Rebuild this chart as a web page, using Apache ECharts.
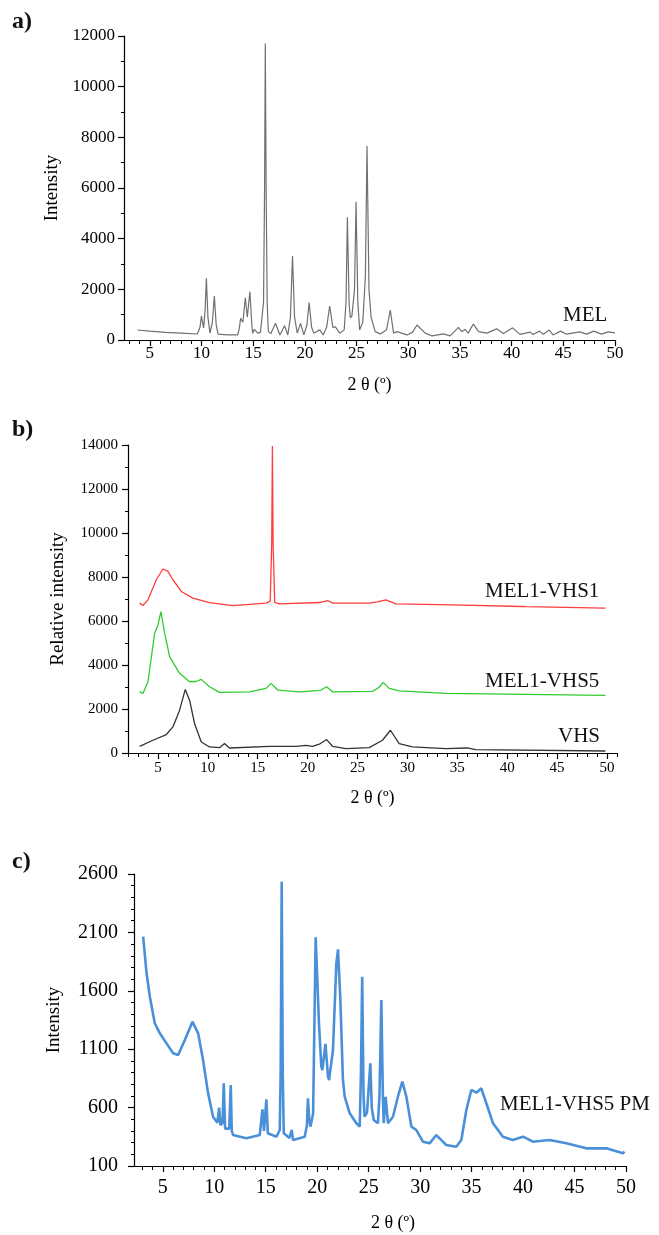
<!DOCTYPE html>
<html>
<head>
<meta charset="utf-8">
<script src="https://cdn.jsdelivr.net/npm/echarts@6/dist/echarts.min.js"></script>
<style>html,body{margin:0;padding:0;background:#fff}#c{width:659px;height:1235px}</style>
</head>
<body>
<div id="c"></div>
<script>
// ---- data (2θ in degrees, intensity) ----
const xTickLabels = [5, 10, 15, 20, 25, 30, 35, 40, 45, 50];
const yTicksA = [0, 2000, 4000, 6000, 8000, 10000, 12000];
const yTicksB = [0, 2000, 4000, 6000, 8000, 10000, 12000, 14000];
const yTicksC = [100, 600, 1100, 1600, 2100, 2600];

const melData = [[3.8,395],[5,350],[6.5,300],[8,270],[9.6,237],[9.85,500],[9.99,947],[10.2,480],[10.35,1200],[10.47,2435],[10.62,900],[10.82,270],[11.05,700],[11.24,1737],[11.42,600],[11.6,230],[12.5,200],[13.5,200],[13.65,450],[13.78,855],[14.0,700],[14.24,1670],[14.43,900],[14.68,1908],[14.85,700],[14.94,270],[15.1,420],[15.45,270],[15.7,300],[15.88,340],[16.0,1500],[16.1,6000],[16.17,11700],[16.25,6000],[16.35,1500],[16.46,340],[16.7,250],[17.16,658],[17.58,200],[18.03,560],[18.35,200],[18.6,900],[18.8,3316],[19.0,900],[19.26,270],[19.58,658],[19.9,200],[20.2,600],[20.41,1474],[20.65,500],[20.86,270],[21.44,400],[21.77,200],[22.1,500],[22.4,1342],[22.7,500],[22.95,520],[23.05,520],[23.37,270],[23.8,400],[23.98,1500],[24.11,4843],[24.28,1400],[24.4,870],[24.55,950],[24.8,2000],[24.95,5460],[25.12,1500],[25.3,400],[25.6,700],[25.85,2500],[26.01,7660],[26.2,2000],[26.4,910],[26.8,330],[27.3,240],[27.9,400],[28.26,1184],[28.58,270],[28.9,330],[29.87,200],[30.4,300],[30.84,592],[31.64,270],[32.3,160],[33.4,240],[34.05,160],[34.86,500],[35.18,330],[35.5,420],[35.8,270],[36.3,630],[36.8,330],[37.6,270],[38.56,440],[39.2,260],[40.1,480],[40.8,220],[41.8,310],[42.07,220],[42.7,350],[43.06,230],[43.64,390],[44.0,200],[44.74,350],[45.3,230],[46.6,320],[47.25,230],[47.95,350],[48.7,230],[49.33,320],[50,280]];

const mel1vhs1Data = [[3.17,6812],[3.5,6703],[4.0,6963],[4.84,7875],[5.5,8363],[6.0,8254],[6.5,7875],[7.34,7342],[8.5,7040],[10.17,6840],[12.5,6703],[15.84,6812],[16.25,6900],[16.4,9500],[16.47,13950],[16.54,9500],[16.7,6850],[17.17,6780],[21.17,6840],[22.0,6931],[22.5,6812],[26.17,6812],[27.0,6870],[27.84,6963],[28.84,6780],[34.5,6735],[41.5,6658],[41.67,6720],[41.85,6650],[49.84,6584]];

const mel1vhs5Data = [[3.17,2782],[3.5,2708],[4.0,3238],[4.67,5444],[5.0,5823],[5.3,6430],[5.67,5444],[6.17,4378],[7.17,3620],[8.17,3238],[8.8,3250],[9.34,3347],[10.17,3010],[11.17,2754],[14.17,2782],[15.84,2937],[16.34,3165],[17.0,2860],[19.17,2782],[21.3,2850],[21.9,3010],[22.5,2782],[26.5,2800],[27.2,3000],[27.57,3210],[28.17,2937],[29.17,2820],[33.84,2708],[49.84,2617]];

const vhsData = [[3.17,305],[3.34,228],[4.5,579],[5.84,839],[6.5,1186],[7.17,1947],[7.74,2891],[8.17,2403],[8.67,1341],[9.34,502],[10.17,274],[11.17,243],[11.67,429],[12.17,228],[16.17,305],[18.84,305],[19.84,351],[20.5,305],[21.17,400],[21.9,611],[22.5,305],[23.84,200],[26.17,243],[27.5,579],[28.3,1035],[29.17,429],[30.5,274],[33.84,200],[36.0,228],[36.84,150],[49.84,91]];

const pmData = [[3.09,2063],[3.42,1750],[3.74,1550],[4.22,1322],[4.71,1236],[5.36,1150],[6.0,1065],[6.49,1050],[7.14,1179],[7.88,1336],[8.43,1236],[8.91,1007],[9.4,722],[9.88,522],[10.3,470],[10.47,600],[10.6,450],[10.8,470],[10.92,808],[11.05,420],[11.18,408],[11.45,420],[11.6,793],[11.7,400],[11.83,365],[13.12,337],[14.42,365],[14.68,585],[14.83,400],[15.06,671],[15.2,380],[15.32,365],[16.04,350],[16.36,408],[16.45,900],[16.55,2534],[16.65,900],[16.75,380],[17.3,340],[17.52,408],[17.65,322],[18.79,350],[19.0,450],[19.1,680],[19.22,500],[19.34,437],[19.6,550],[19.85,2058],[20.17,1322],[20.4,950],[20.5,922],[20.8,1145],[21.05,865],[21.15,836],[21.53,1093],[21.86,1835],[22.02,1955],[22.25,1521],[22.5,836],[22.67,693],[23.16,551],[23.8,466],[24.13,437],[24.25,900],[24.37,1721],[24.5,700],[24.6,522],[24.84,560],[25.16,979],[25.3,600],[25.49,494],[25.9,466],[26.05,700],[26.23,1521],[26.38,700],[26.46,466],[26.65,693],[26.87,466],[27.36,522],[27.84,693],[28.27,822],[28.66,693],[29.15,437],[29.63,408],[30.27,308],[30.92,294],[31.57,365],[32.06,322],[32.54,280],[33.51,265],[34.0,322],[34.49,579],[34.97,751],[35.46,728],[35.94,765],[36.43,637],[37.08,466],[38.04,351],[39.0,322],[40.0,351],[40.95,308],[42.57,322],[44.2,294],[46.13,251],[48.08,251],[49.7,209],[49.85,223]];

// ---- chart ----
const FONT = '"Liberation Serif", "Times New Roman", serif';
const plain = v => String(v);

// panel geometry: plot rectangles and x extents
const panels = [
  {left: 124, top: 36, width: 491, height: 304, xMin: 2.5, xMax: 50},
  {left: 128, top: 445, width: 489, height: 308, xMin: 2, xMax: 51},
  {left: 134, top: 874, width: 492, height: 292, xMin: 2.2, xMax: 50}
];
// overlay grids carrying 1-degree minor ticks (start at the first whole degree)
const minorGrids = panels.map(p => {
  const ppu = p.width / (p.xMax - p.xMin);
  const m0 = Math.ceil(p.xMin);
  return {left: p.left + (m0 - p.xMin) * ppu, top: p.top, width: (p.xMax - m0) * ppu, height: p.height, m0: m0, xMax: p.xMax};
});

function xMain(grid, p, fs, margin, gap, pad) {
  return {
    type: 'value', gridIndex: grid, position: 'bottom', min: p.xMin, max: p.xMax,
    axisLine: {show: true, onZero: false, lineStyle: {color: '#000', width: 1.2}},
    axisTick: {show: true, customValues: xTickLabels, length: 6, lineStyle: {color: '#000', width: 1.2}},
    axisLabel: {customValues: xTickLabels, formatter: plain, fontFamily: FONT, fontSize: fs, color: '#000', margin: margin},
    splitLine: {show: false},
    name: '2 θ (º)', nameLocation: 'middle', nameGap: gap,
    nameTextStyle: {fontFamily: FONT, fontSize: 18, color: '#000', padding: pad || 0}
  };
}
function xMinor(grid, g) {
  return {
    type: 'value', gridIndex: grid, position: 'bottom', min: g.m0, max: g.xMax, interval: 1,
    axisLine: {show: false},
    axisTick: {show: true, length: 4, lineStyle: {color: '#000', width: 1}},
    axisLabel: {show: false}, splitLine: {show: false}
  };
}
function yHidden(grid) {
  return {type: 'value', gridIndex: grid, min: 0, max: 1, show: false};
}
function yAx(grid, ticks, minorSplit, fs, margin, name, gap) {
  return {
    type: 'value', gridIndex: grid, min: ticks[0], max: ticks[ticks.length - 1],
    interval: ticks[1] - ticks[0],
    axisLine: {show: true, lineStyle: {color: '#000', width: 1.2}},
    axisTick: {show: true, length: 6, lineStyle: {color: '#000', width: 1.2}},
    minorTick: {show: true, splitNumber: minorSplit, length: 3, lineStyle: {color: '#000', width: 1}},
    axisLabel: {formatter: plain, fontFamily: FONT, fontSize: fs, color: '#000', margin: margin},
    splitLine: {show: false}, minorSplitLine: {show: false},
    name: name, nameLocation: 'middle', nameGap: gap,
    nameTextStyle: {fontFamily: FONT, fontSize: 19, color: '#000'}
  };
}
function lineS(name, data, xi, yi, color, width) {
  return {
    name: name, type: 'line', data: data, xAxisIndex: xi, yAxisIndex: yi,
    showSymbol: false, symbol: 'none', smooth: false, animation: false,
    lineStyle: {color: color, width: width}, emphasis: {disabled: true}
  };
}
function txt(text, x, y, size, weight) {
  return {type: 'text', style: {text: text, x: x, y: y, font: (weight || 'normal') + ' ' + size + 'px ' + FONT, fill: '#111', align: 'left', verticalAlign: 'middle'}};
}

const chart = echarts.init(document.getElementById('c'), null, {renderer: 'canvas'});
chart.setOption({
  backgroundColor: '#fff',
  animation: false,
  grid: panels.map(p => ({left: p.left, top: p.top, width: p.width, height: p.height}))
    .concat(minorGrids.map(g => ({left: g.left, top: g.top, width: g.width, height: g.height}))),
  xAxis: [
    xMain(0, panels[0], 17, 5, 36),
    xMain(1, panels[1], 15, 8, 36),
    xMain(2, panels[2], 20, 12, 48, [0, 0, 0, 26]),
    xMinor(3, minorGrids[0]),
    xMinor(4, minorGrids[1]),
    xMinor(5, minorGrids[2])
  ],
  yAxis: [
    yAx(0, yTicksA, 2, 17, 9, 'Intensity', 58),
    yAx(1, yTicksB, 2, 15, 10, 'Relative intensity', 60),
    yAx(2, yTicksC, 5, 20, 16, 'Intensity', 70),
    yHidden(3), yHidden(4), yHidden(5)
  ],
  series: [
    lineS('MEL', melData, 0, 0, '#707070', 1.2),
    lineS('MEL1-VHS1', mel1vhs1Data, 1, 1, '#ff3d3d', 1.3),
    lineS('MEL1-VHS5', mel1vhs5Data, 1, 1, '#2ecc2e', 1.3),
    lineS('VHS', vhsData, 1, 1, '#333333', 1.3),
    lineS('MEL1-VHS5 PM', pmData, 2, 2, '#4a90d9', 2.6)
  ],
  graphic: [
    txt('a)', 12, 22, 24, 'bold'),
    txt('b)', 12, 430, 24, 'bold'),
    txt('c)', 12, 862, 24, 'bold'),
    txt('MEL', 563, 315, 21),
    txt('MEL1-VHS1', 485, 591, 21),
    txt('MEL1-VHS5', 485, 681, 21),
    txt('VHS', 558, 736, 21),
    txt('MEL1-VHS5 PM', 500, 1104, 21)
  ]
});
</script>
</body>
</html>
